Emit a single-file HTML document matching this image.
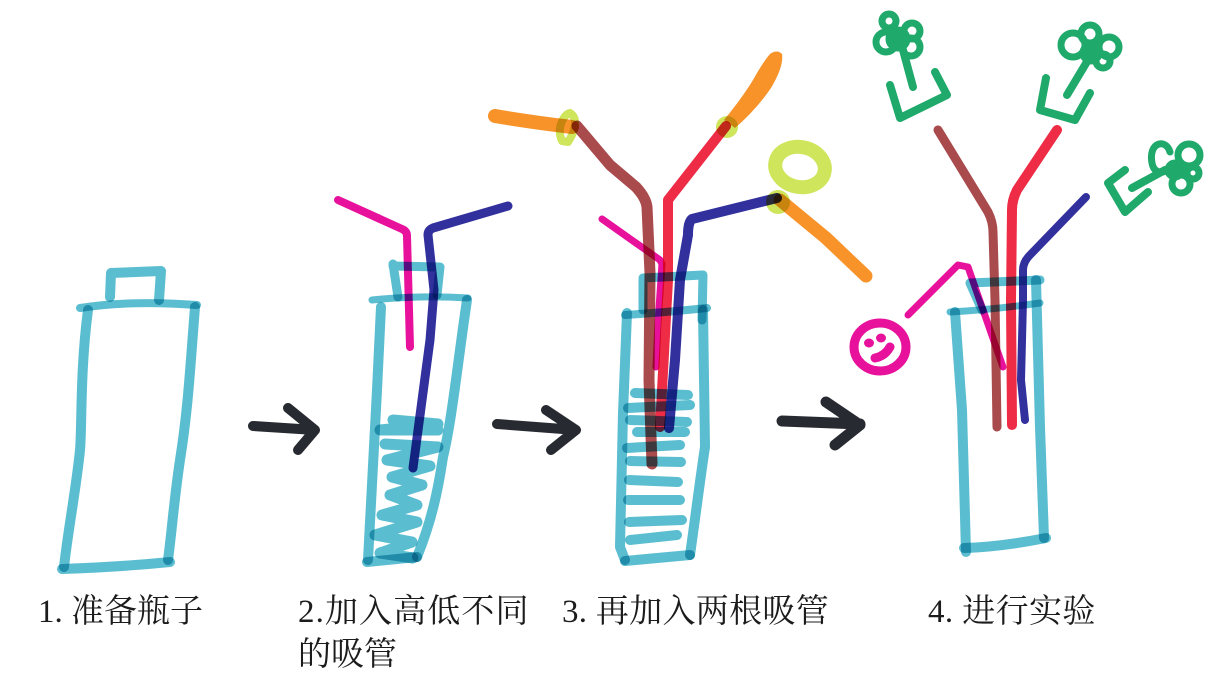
<!DOCTYPE html>
<html><head><meta charset="utf-8">
<style>
html,body{margin:0;padding:0;background:#fff;width:1221px;height:688px;overflow:hidden}
svg{display:block;isolation:isolate}
.s{fill:none;stroke-linecap:round;stroke-linejoin:round;mix-blend-mode:multiply}
.c{stroke:#5bbdd0;stroke-width:10}
.w{stroke:#5bbdd0;stroke-width:10}
.p{stroke:#e8119c;stroke-width:8}
.n{stroke:#32309c;stroke-width:9}
.b{stroke:#a94a4c;stroke-width:11}
.r{stroke:#ee2c46;stroke-width:10}
.o{stroke:#f79329;stroke-width:12}
.y{stroke:#cee55c;stroke-width:8}
.g{stroke:#1fa96a;stroke-width:8}
.k{stroke:#272a30;stroke-width:10}
text{font-family:"Liberation Serif","Noto Serif CJK SC",serif;font-size:33px;fill:#1c1c1c}
</style></head><body>
<svg width="1221" height="688" viewBox="0 0 1221 688" xmlns="http://www.w3.org/2000/svg">
<!-- bottle 1 -->
<path class="s c" d="M110 297L111 273L161 271L159 300" style="stroke-width:10"/>
<path class="s c" d="M80 308Q130 300 197 305" style="stroke-width:8"/>
<path class="s c" d="M88 310C80 370 82 430 80 450C76 490 68 530 64 567"/>
<path class="s c" d="M195 307C190 370 188 410 180 460C174 500 172 530 168 560"/>
<path class="s c" d="M62 569Q120 567 170 562"/>
<!-- arrows -->
<path class="s k" d="M253 426L315 430M288 408L315 430L298 450"/>
<path class="s k" d="M497 424L576 430M546 410L576 430L551 450"/>
<path class="s k" d="M782 421L860 424M826 402L860 425L835 445" style="stroke-width:11"/>
<!-- bottle 2 -->
<path class="s c" d="M393 264L398 297M393 266L440 267L437 295" style="stroke-width:9"/>
<path class="s c" d="M372 300Q420 295 468 298" style="stroke-width:7"/>
<path class="s c" d="M381 307L377 390L368 560"/>
<path class="s c" d="M467 300C458 360 452 420 443 457C438 490 432 520 417 557"/>
<path class="s c" d="M367 562L417 557"/>
<path class="s w" style="stroke-width:11" d="M393 420L438 424L380 430L438 430M385 444L438 447L387 460L430 466L392 477L422 485L390 495L417 505L382 515L417 522L375 535L412 542L380 553L413 558"/>
<path class="s p" d="M338 200L402 229Q407 231 407 236L410 347"/>
<path class="s n" d="M508 206L433 228Q428 230 428 235L434 290L430 340L413 468"/>
<!-- bottle 3 -->
<path class="s c" d="M643 280L643 310M643 278L703 275L702 320" style="stroke-width:9"/>
<path class="s c" d="M625 315Q670 312 707 308" style="stroke-width:8"/>
<path class="s c" d="M627 313L623 413L620 547L625 560"/>
<path class="s c" d="M703 310L705 447C700 480 695 520 690 555"/>
<path class="s c" d="M625 561L690 555"/>
<path class="s w" d="M635 393L688 395M628 408L690 405M630 420L687 422M637 432L685 432M627 448L680 445M630 461L681 462M629 480L678 482M628 500L680 500M629 522L682 520M630 540L677 535"/>
<!-- yellow rings -->
<ellipse class="s y" cx="800" cy="167" rx="25" ry="20" style="stroke-width:14" transform="rotate(12 800 167)"/>
<path class="s y" d="M562 141C556 128 564 114 570 113C578 118 576 130 568 142Z" style="stroke-width:8"/>
<circle cx="727" cy="127" r="11" fill="#cee55c"/>
<circle cx="778" cy="202" r="12" fill="#cee55c"/>
<!-- orange -->
<path class="s o" d="M495 116Q530 122 572 127" style="stroke-width:14"/>
<path d="M770 54Q777 49 782 54Q784 66 771 88Q756 110 735 128L724 120Q742 98 753 80Q763 62 770 54Z" fill="#f79329" style="mix-blend-mode:multiply"/>
<path class="s o" d="M780 200L826 238L866 276" style="stroke-width:13"/>
<!-- straws 3 -->
<path class="s p" d="M602 219L660 260L662 264L658 323L656 367" style="stroke-width:7"/>
<path class="s b" d="M577 126L610 165L636 187Q646 198 647 207L650 273L649 380L652 464"/>
<path class="s r" d="M726 126L668 200L668 280L660 427"/>
<path class="s n" d="M777 198L692 219Q688 222 688 235L680 280L675 360L669 428" style="stroke-width:10"/>
<!-- bottle 4 -->
<path class="s c" d="M970 283L982 310M970 283L1040 280" style="stroke-width:9"/>
<path class="s c" d="M950 312Q990 310 1040 303" style="stroke-width:7"/>
<path class="s c" d="M955 312L962 410L966 552"/>
<path class="s c" d="M1036 280L1040 427L1044 538"/>
<path class="s c" d="M964 548Q1000 547 1046 538"/>
<path class="s b" d="M938 130L988 212Q993 222 993 232L995 300L997 427" style="stroke-width:9"/>
<path class="s r" d="M1057 130L1017 190Q1012 200 1012 210L1011 300L1012 425"/>
<path class="s n" d="M1086 197L1030 255Q1023 262 1023 270L1023 300L1021 380L1025 420" style="stroke-width:8"/>
<path class="s p" d="M908 315L958 265L968 267L1003 367" style="stroke-width:7"/>
<!-- smiley -->
<ellipse class="s p" cx="880" cy="347" rx="26" ry="24" style="stroke-width:9"/>
<ellipse cx="869" cy="343" rx="5" ry="4.5" fill="#e8119c"/>
<ellipse cx="881" cy="338" rx="5" ry="4.5" fill="#e8119c"/>
<path class="s p" d="M875 358Q885 356 890 347" style="stroke-width:9"/>
<!-- flower 1 -->
<g class="s g">
<path d="M903 50L913 87"/>
<path d="M890 85L900 118L947 95L935 72"/>
<g style="stroke-width:7">
<circle cx="889" cy="21" r="7"/><circle cx="886" cy="42" r="10"/><circle cx="912" cy="31" r="8"/><circle cx="911" cy="47" r="9"/>
<circle cx="898" cy="39" r="9" fill="#1fa96a"/>
</g>
</g>
<!-- flower 2 -->
<g class="s g">
<path d="M1067 95L1088 60"/>
<path d="M1046 78L1040 110L1075 120L1090 93"/>
<g style="stroke-width:7">
<circle cx="1073" cy="45" r="12"/><circle cx="1090" cy="34" r="9"/><circle cx="1109" cy="47" r="10"/><circle cx="1103" cy="61" r="7"/>
<circle cx="1091" cy="53" r="8" fill="#1fa96a"/>
</g>
</g>
<!-- flower 3 -->
<g class="s g">
<path d="M1132 188L1165 170"/>
<path d="M1125 170L1108 183L1125 212L1148 192"/>
<g style="stroke-width:7">
<path d="M1170 152C1166 138 1148 142 1152 163C1154 174 1162 173 1170 170"/>
<circle cx="1189" cy="155" r="11"/><circle cx="1181" cy="184" r="9"/><circle cx="1193" cy="173" r="6"/><circle cx="1175" cy="170" r="7" fill="#1fa96a"/>
</g>
</g>
<!-- labels -->
<text x="38" y="622">1. 准备瓶子</text>
<text x="298" y="622" style="letter-spacing:1.1px">2.加入高低不同</text>
<text x="298" y="665">的吸管</text>
<text x="562" y="622" style="letter-spacing:.3px">3. 再加入两根吸管</text>
<text x="928" y="622" style="letter-spacing:.4px">4. 进行实验</text>
</svg>
</body></html>
